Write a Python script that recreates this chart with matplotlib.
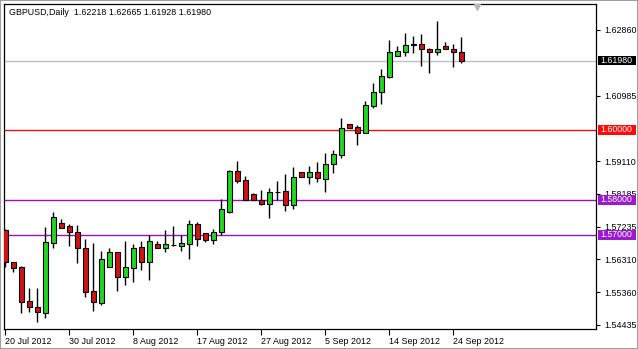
import numpy as np
import matplotlib
matplotlib.use("Agg")
import matplotlib.pyplot as plt
from matplotlib.patches import Rectangle
import matplotlib.transforms as mtransforms

plt.rcParams['font.family'] = ['Liberation Sans', 'DejaVu Sans']

# Datos (GBPUSD diario)
opens = [1.57143, 1.56220, 1.56086, 1.55114, 1.54943, 1.54780, 1.56780, 1.57334, 1.57249, 1.57077,
         1.56620, 1.55400, 1.55066, 1.56094, 1.56506, 1.55809, 1.56066, 1.56649, 1.56237, 1.56734,
         1.56620, 1.56714, 1.56694, 1.56751, 1.57306, 1.57049, 1.56849, 1.57077, 1.57657, 1.58820,
         1.58563, 1.58171, 1.57991, 1.57877, 1.58229, 1.58249, 1.57849, 1.58791, 1.58649, 1.58791,
         1.58609, 1.59020, 1.59286, 1.60163, 1.60077, 1.59906, 1.60694, 1.61077, 1.61514, 1.62123,
         1.62237, 1.62449, 1.62457, 1.62306, 1.62220, 1.62391, 1.62306, 1.62218]
highs = [1.57171, 1.56229, 1.56100, 1.55494, 1.55494, 1.57229, 1.57657, 1.57466, 1.57314, 1.57277,
         1.56894, 1.56771, 1.56551, 1.56637, 1.56506, 1.56837, 1.56734, 1.56837, 1.56991, 1.56837,
         1.57143, 1.57257, 1.56991, 1.57429, 1.57371, 1.57057, 1.57157, 1.58020, 1.58857, 1.59114,
         1.58686, 1.58209, 1.58286, 1.58334, 1.58543, 1.58743, 1.58951, 1.58791, 1.58971, 1.59086,
         1.59343, 1.59429, 1.60343, 1.60180, 1.60143, 1.60837, 1.61343, 1.61743, 1.62563, 1.62391,
         1.62771, 1.62686, 1.62743, 1.62343, 1.63114, 1.62506, 1.62449, 1.62665]
lows = [1.56094, 1.55951, 1.54780, 1.54800, 1.54523, 1.54637, 1.56620, 1.57209, 1.56686, 1.56209,
        1.55237, 1.54837, 1.55009, 1.56094, 1.55409, 1.55571, 1.55666, 1.56009, 1.55723, 1.56620,
        1.56523, 1.56677, 1.56551, 1.56323, 1.56694, 1.56786, 1.56734, 1.57000, 1.57620, 1.58494,
        1.58009, 1.58009, 1.57849, 1.57494, 1.57991, 1.57677, 1.57751, 1.58649, 1.58466, 1.58523,
        1.58237, 1.58780, 1.59209, 1.60066, 1.59580, 1.59906, 1.60637, 1.60734, 1.61494, 1.62123,
        1.62123, 1.62214, 1.61837, 1.61637, 1.62134, 1.62306, 1.61809, 1.61928]
closes = [1.56220, 1.56066, 1.55094, 1.54934, 1.54791, 1.56791, 1.57506, 1.57209, 1.57077, 1.56620,
          1.55380, 1.55077, 1.56306, 1.56506, 1.55809, 1.56077, 1.56620, 1.56237, 1.56820, 1.56620,
          1.56734, 1.56700, 1.56763, 1.57306, 1.56877, 1.56843, 1.57077, 1.57734, 1.58820, 1.58551,
          1.58009, 1.58009, 1.57877, 1.58220, 1.58220, 1.57849, 1.58649, 1.58649, 1.58791, 1.58620,
          1.59020, 1.59306, 1.60057, 1.60066, 1.59906, 1.60706, 1.61077, 1.61534, 1.62220, 1.62257,
          1.62429, 1.62440, 1.62306, 1.62220, 1.62306, 1.62306, 1.62237, 1.61980]

fechas_idx = [0, 8, 16, 24, 32, 40, 48, 56]
fechas = ['20 Jul 2012', '30 Jul 2012', '8 Aug 2012', '17 Aug 2012',
          '27 Aug 2012', '5 Sep 2012', '14 Sep 2012', '24 Sep 2012']
precios_eje = [1.62860, 1.60985, 1.59110, 1.58185, 1.57235, 1.56310, 1.55360, 1.54435]

niveles = [1.60000, 1.58000, 1.57000]
colores_nivel = ['#e81010', '#9a10c8', '#9a10c8']
fondos_nivel = ['#ff0a0a', '#9a1ad0', '#9a1ad0']
ultimo = closes[-1]

titulo = 'GBPUSD,Daily  %.5f %.5f %.5f %.5f' % (opens[-1], highs[-1], lows[-1], closes[-1])

verde = '#22d622'
rojo = '#d01414'

W, H = 638, 349
fig = plt.figure(figsize=(W / 100, H / 100), dpi=100)
ax = fig.add_axes([4 / W, 20 / H, 592 / W, 325 / H])

x = np.arange(len(opens))
o = np.array(opens)
c = np.array(closes)
col = [verde if cc > oo else rojo for oo, cc in zip(o, c)]

# niveles horizontales
ax.axhline(ultimo, color='#c0c0c0', lw=1.0, zorder=1)
for nv, cl in zip(niveles, colores_nivel):
    ax.axhline(nv, color=cl, lw=1.0, zorder=1)

# velas
ax.vlines(x, lows, highs, color='black', lw=1.0, zorder=2)
ax.bar(x, np.abs(c - o), bottom=np.minimum(o, c), width=0.62,
       color=col, edgecolor='black', linewidth=0.8, zorder=3)

ax.set_xlim(-0.1625, -0.1625 + 592 / 8)
ax.set_ylim(1.54314, 1.636)

# eje x
ax.set_xticks(fechas_idx)
ax.set_xticklabels(fechas, ha='left', fontsize=6.4)
ax.tick_params(axis='x', length=4, width=0.8, pad=2)

# eje y a la derecha
ax.yaxis.tick_right()
ax.set_yticks(precios_eje)
ax.set_yticklabels(['%.5f' % p for p in precios_eje], fontsize=6.4)
ax.tick_params(axis='y', length=3, width=0.8, pad=3)
for lbl in ax.get_yticklabels():
    lbl.set_zorder(1)

for s in ax.spines.values():
    s.set_color('black')
    s.set_linewidth(0.9)

# etiquetas de precio en el eje
trans = mtransforms.blended_transform_factory(ax.transAxes, ax.transData)
cajas = [(ultimo, 'black')] + list(zip(niveles, fondos_nivel))
alto = 9.5 / 3500
for val, fondo in cajas:
    ax.add_patch(Rectangle((594 / 592, val - alto / 2), 38 / 592, alto,
                           transform=trans, facecolor=fondo, edgecolor='none',
                           clip_on=False, zorder=10))
    ax.text(1 + 4 / 592, val, '%.5f' % val, transform=trans, color='white',
            fontsize=6.3, va='center', ha='left', clip_on=False, zorder=11)

# titulo
ax.text(5 / 592, 1 - 8.5 / 325, titulo, transform=ax.transAxes, fontsize=6.4,
        va='center', ha='left', color='black')

# marcador de desplazamiento
ax.plot([(476.7 - 4) / 592], [1 - 2.8 / 325], marker='v', markersize=5,
        color='#b8b8b8', transform=ax.transAxes, clip_on=False, zorder=5)

# borde de la ventana
fig.add_artist(Rectangle((0, 0), 1, 1, transform=fig.transFigure,
                         facecolor='none', edgecolor='#a0a0a0', lw=1.5))

fig.savefig('out.png', dpi=100)
